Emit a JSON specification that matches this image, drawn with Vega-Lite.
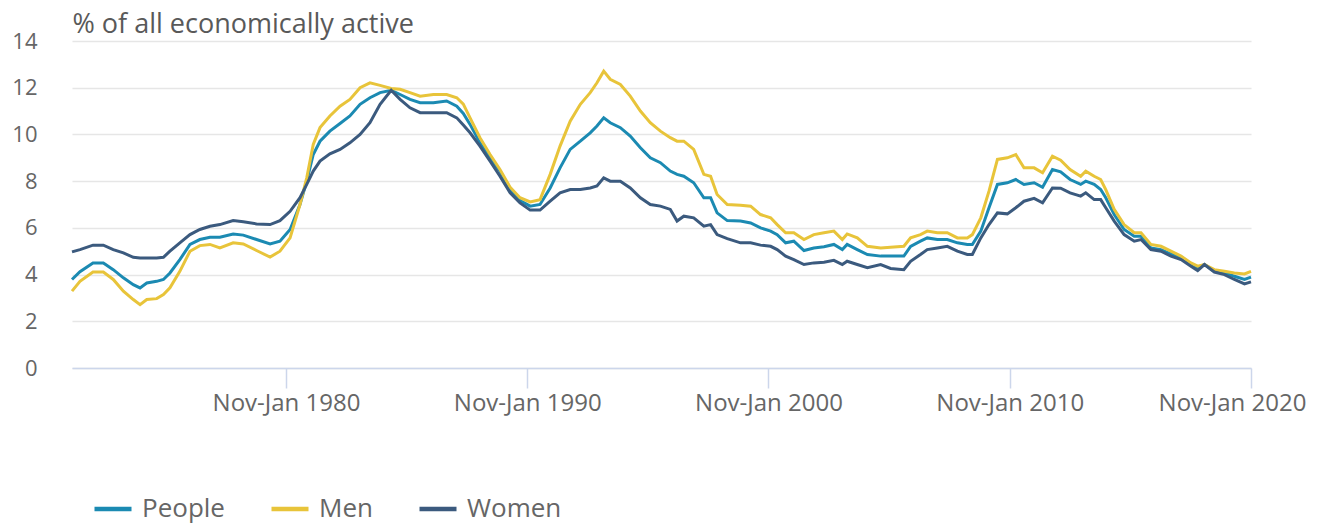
{
  "$schema": "https://vega.github.io/schema/vega-lite/v6.json",
  "width": 1179,
  "height": 327,
  "autosize": {"type": "none"},
  "padding": {"left": 72, "top": 41, "right": 70, "bottom": 159},
  "background": "#ffffff",
  "config": {
    "font": "Open Sans",
    "view": {"stroke": null}
  },
  "data": {"values": [
    {"t":1971.13,"People":3.79,"Men":3.29,"Women":4.97},
    {"t":1971.46,"People":4.12,"Men":3.71,"Women":5.07},
    {"t":1972.0,"People":4.5,"Men":4.11,"Women":5.26},
    {"t":1972.43,"People":4.5,"Men":4.11,"Women":5.26},
    {"t":1972.84,"People":4.21,"Men":3.79,"Women":5.07},
    {"t":1973.26,"People":3.86,"Men":3.29,"Women":4.93},
    {"t":1973.67,"People":3.57,"Men":2.93,"Women":4.74},
    {"t":1973.95,"People":3.43,"Men":2.71,"Women":4.71},
    {"t":1974.23,"People":3.64,"Men":2.93,"Women":4.71},
    {"t":1974.64,"People":3.71,"Men":2.97,"Women":4.71},
    {"t":1974.92,"People":3.79,"Men":3.14,"Women":4.74},
    {"t":1975.19,"People":4.07,"Men":3.43,"Women":5.0},
    {"t":1975.6,"People":4.64,"Men":4.14,"Women":5.36},
    {"t":1976.02,"People":5.29,"Men":5.0,"Women":5.71},
    {"t":1976.43,"People":5.5,"Men":5.24,"Women":5.93},
    {"t":1976.85,"People":5.6,"Men":5.29,"Women":6.07},
    {"t":1977.26,"People":5.6,"Men":5.14,"Women":6.14},
    {"t":1977.81,"People":5.74,"Men":5.36,"Women":6.31},
    {"t":1978.23,"People":5.69,"Men":5.31,"Women":6.26},
    {"t":1978.78,"People":5.5,"Men":5.03,"Women":6.17},
    {"t":1979.34,"People":5.31,"Men":4.75,"Women":6.14},
    {"t":1979.75,"People":5.43,"Men":5.0,"Women":6.31},
    {"t":1980.17,"People":5.93,"Men":5.57,"Women":6.71},
    {"t":1980.58,"People":7.0,"Men":7.0,"Women":7.29},
    {"t":1980.86,"People":8.0,"Men":8.14,"Women":7.86},
    {"t":1981.13,"People":9.14,"Men":9.57,"Women":8.43},
    {"t":1981.41,"People":9.71,"Men":10.29,"Women":8.86},
    {"t":1981.82,"People":10.14,"Men":10.79,"Women":9.17},
    {"t":1982.24,"People":10.47,"Men":11.21,"Women":9.36},
    {"t":1982.65,"People":10.79,"Men":11.5,"Women":9.64},
    {"t":1983.07,"People":11.29,"Men":12.0,"Women":10.0},
    {"t":1983.48,"People":11.57,"Men":12.21,"Women":10.5},
    {"t":1983.9,"People":11.79,"Men":12.1,"Women":11.29},
    {"t":1984.36,"People":11.89,"Men":11.97,"Women":11.89},
    {"t":1984.73,"People":11.71,"Men":11.93,"Women":11.5},
    {"t":1985.14,"People":11.5,"Men":11.79,"Women":11.14},
    {"t":1985.56,"People":11.36,"Men":11.64,"Women":10.93},
    {"t":1986.11,"People":11.36,"Men":11.71,"Women":10.93},
    {"t":1986.66,"People":11.43,"Men":11.71,"Women":10.93},
    {"t":1987.08,"People":11.21,"Men":11.57,"Women":10.71},
    {"t":1987.35,"People":10.9,"Men":11.3,"Women":10.4},
    {"t":1987.63,"People":10.43,"Men":10.71,"Women":10.07},
    {"t":1988.04,"People":9.64,"Men":9.86,"Women":9.5},
    {"t":1988.46,"People":9.0,"Men":9.14,"Women":8.86},
    {"t":1988.87,"People":8.43,"Men":8.5,"Women":8.21},
    {"t":1989.29,"People":7.64,"Men":7.74,"Women":7.5},
    {"t":1989.7,"People":7.17,"Men":7.29,"Women":7.07},
    {"t":1990.12,"People":6.93,"Men":7.11,"Women":6.76},
    {"t":1990.53,"People":7.0,"Men":7.21,"Women":6.76},
    {"t":1990.95,"People":7.71,"Men":8.29,"Women":7.14},
    {"t":1991.36,"People":8.57,"Men":9.5,"Women":7.5},
    {"t":1991.78,"People":9.36,"Men":10.57,"Women":7.64},
    {"t":1992.2,"People":9.71,"Men":11.29,"Women":7.64},
    {"t":1992.61,"People":10.07,"Men":11.79,"Women":7.71},
    {"t":1992.89,"People":10.36,"Men":12.21,"Women":7.79},
    {"t":1993.17,"People":10.71,"Men":12.71,"Women":8.14},
    {"t":1993.44,"People":10.5,"Men":12.36,"Women":8.0},
    {"t":1993.86,"People":10.29,"Men":12.14,"Women":8.0},
    {"t":1994.27,"People":9.93,"Men":11.64,"Women":7.71},
    {"t":1994.69,"People":9.43,"Men":11.0,"Women":7.29},
    {"t":1995.1,"People":9.0,"Men":10.5,"Women":7.0},
    {"t":1995.52,"People":8.79,"Men":10.14,"Women":6.93},
    {"t":1995.93,"People":8.43,"Men":9.86,"Women":6.79},
    {"t":1996.21,"People":8.29,"Men":9.71,"Women":6.29},
    {"t":1996.49,"People":8.21,"Men":9.71,"Women":6.5},
    {"t":1996.9,"People":7.93,"Men":9.36,"Women":6.43},
    {"t":1997.32,"People":7.29,"Men":8.29,"Women":6.07},
    {"t":1997.6,"People":7.29,"Men":8.21,"Women":6.14},
    {"t":1997.87,"People":6.64,"Men":7.43,"Women":5.71},
    {"t":1998.29,"People":6.31,"Men":7.0,"Women":5.54},
    {"t":1998.84,"People":6.29,"Men":6.97,"Women":5.36},
    {"t":1999.26,"People":6.21,"Men":6.93,"Women":5.36},
    {"t":1999.67,"People":6.0,"Men":6.57,"Women":5.26},
    {"t":2000.09,"People":5.86,"Men":6.43,"Women":5.21},
    {"t":2000.36,"People":5.71,"Men":6.14,"Women":5.07},
    {"t":2000.71,"People":5.36,"Men":5.79,"Women":4.79},
    {"t":2001.05,"People":5.43,"Men":5.79,"Women":4.64},
    {"t":2001.47,"People":5.03,"Men":5.5,"Women":4.43},
    {"t":2001.88,"People":5.14,"Men":5.71,"Women":4.5},
    {"t":2002.3,"People":5.19,"Men":5.79,"Women":4.53},
    {"t":2002.71,"People":5.29,"Men":5.86,"Women":4.61},
    {"t":2003.06,"People":5.07,"Men":5.5,"Women":4.43},
    {"t":2003.26,"People":5.29,"Men":5.74,"Women":4.57},
    {"t":2003.68,"People":5.07,"Men":5.57,"Women":4.43},
    {"t":2004.1,"People":4.86,"Men":5.21,"Women":4.29},
    {"t":2004.65,"People":4.79,"Men":5.14,"Women":4.43},
    {"t":2005.06,"People":4.79,"Men":5.17,"Women":4.26},
    {"t":2005.61,"People":4.79,"Men":5.21,"Women":4.21},
    {"t":2005.89,"People":5.21,"Men":5.57,"Women":4.57},
    {"t":2006.3,"People":5.43,"Men":5.71,"Women":4.86},
    {"t":2006.58,"People":5.57,"Men":5.86,"Women":5.07},
    {"t":2007.0,"People":5.5,"Men":5.79,"Women":5.14},
    {"t":2007.41,"People":5.5,"Men":5.79,"Women":5.21},
    {"t":2007.83,"People":5.36,"Men":5.57,"Women":5.0},
    {"t":2008.24,"People":5.29,"Men":5.57,"Women":4.86},
    {"t":2008.45,"People":5.29,"Men":5.71,"Women":4.86},
    {"t":2008.8,"People":5.86,"Men":6.43,"Women":5.57},
    {"t":2009.14,"People":6.86,"Men":7.57,"Women":6.14},
    {"t":2009.49,"People":7.86,"Men":8.93,"Women":6.64},
    {"t":2009.9,"People":7.93,"Men":9.0,"Women":6.6},
    {"t":2010.25,"People":8.07,"Men":9.14,"Women":6.86},
    {"t":2010.59,"People":7.86,"Men":8.57,"Women":7.14},
    {"t":2011.01,"People":7.93,"Men":8.57,"Women":7.26},
    {"t":2011.36,"People":7.74,"Men":8.36,"Women":7.07},
    {"t":2011.77,"People":8.5,"Men":9.07,"Women":7.71},
    {"t":2012.11,"People":8.4,"Men":8.9,"Women":7.7},
    {"t":2012.5,"People":8.07,"Men":8.5,"Women":7.5},
    {"t":2012.94,"People":7.86,"Men":8.21,"Women":7.36},
    {"t":2013.15,"People":8.0,"Men":8.43,"Women":7.5},
    {"t":2013.5,"People":7.86,"Men":8.21,"Women":7.21},
    {"t":2013.77,"People":7.64,"Men":8.07,"Women":7.21},
    {"t":2013.98,"People":7.29,"Men":7.64,"Women":6.86},
    {"t":2014.33,"People":6.57,"Men":6.79,"Women":6.29},
    {"t":2014.74,"People":5.93,"Men":6.14,"Women":5.71},
    {"t":2015.16,"People":5.64,"Men":5.79,"Women":5.43},
    {"t":2015.44,"People":5.64,"Men":5.79,"Women":5.5},
    {"t":2015.85,"People":5.14,"Men":5.29,"Women":5.07},
    {"t":2016.27,"People":5.07,"Men":5.21,"Women":5.0},
    {"t":2016.68,"People":4.89,"Men":5.0,"Women":4.79},
    {"t":2017.1,"People":4.71,"Men":4.79,"Women":4.64},
    {"t":2017.51,"People":4.46,"Men":4.5,"Women":4.36},
    {"t":2017.79,"People":4.29,"Men":4.36,"Women":4.17},
    {"t":2018.07,"People":4.43,"Men":4.43,"Women":4.43},
    {"t":2018.48,"People":4.14,"Men":4.21,"Women":4.11},
    {"t":2018.9,"People":4.07,"Men":4.14,"Women":4.0},
    {"t":2019.31,"People":3.93,"Men":4.07,"Women":3.79},
    {"t":2019.73,"People":3.79,"Men":4.03,"Women":3.6},
    {"t":2020.0,"People":3.89,"Men":4.14,"Women":3.69}
  ]},
  "transform": [{"fold": ["People", "Men", "Women"], "as": ["series", "rate"]}],
  "mark": {"type": "line", "strokeWidth": 3, "interpolate": "linear"},
  "encoding": {
    "x": {
      "field": "t", "type": "quantitative",
      "scale": {"domain": [1971.13, 2020.0], "nice": false, "zero": false},
      "axis": {
        "title": null,
        "values": [1980, 1990, 2000, 2010, 2020],
        "labelExpr": "'Nov-Jan ' + datum.value",
        "grid": false,
        "domainColor": "#ccd6eb", "domainWidth": 1.5,
        "tickColor": "#ccd6eb", "tickWidth": 1.5, "tickSize": 20,
        "labelPadding": 3, "labelFontSize": 24, "labelColor": "#666666",
        "labelOffset": {"expr": "datum.value == 2020 ? -19 : 0"},
        "labelFont": "Open Sans", "labelBound": false, "labelOverlap": false, "labelFlush": false
      }
    },
    "y": {
      "field": "rate", "type": "quantitative",
      "scale": {"domain": [0, 14], "nice": false},
      "axis": {
        "values": [0, 2, 4, 6, 8, 10, 12, 14],
        "title": "% of all economically active",
        "titleAngle": 0, "titleX": 0, "titleY": -9,
        "titleAlign": "left", "titleBaseline": "alphabetic",
        "titleFontSize": 27, "titleFontWeight": "normal", "titleColor": "#595959", "titleFont": "Open Sans",
        "domain": false, "ticks": false,
        "gridColor": "#e6e6e6", "gridWidth": 1.5,
        "labelPadding": 35, "labelFontSize": 22, "labelColor": "#666666", "labelFont": "Open Sans"
      }
    },
    "color": {
      "field": "series", "type": "nominal",
      "sort": ["People", "Men", "Women"],
      "scale": {"domain": ["People", "Men", "Women"], "range": ["#1b8ab2", "#e8c43a", "#3b5a7e"]},
      "legend": {
        "title": null, "orient": "none", "direction": "horizontal",
        "legendX": 20, "legendY": 447,
        "symbolType": "stroke", "symbolSize": 1369, "symbolStrokeWidth": 4.5,
        "labelFontSize": 26, "labelColor": "#666666", "labelFont": "Open Sans",
        "labelOffset": 8, "columnPadding": 37, "padding": 0
      }
    }
  }
}
